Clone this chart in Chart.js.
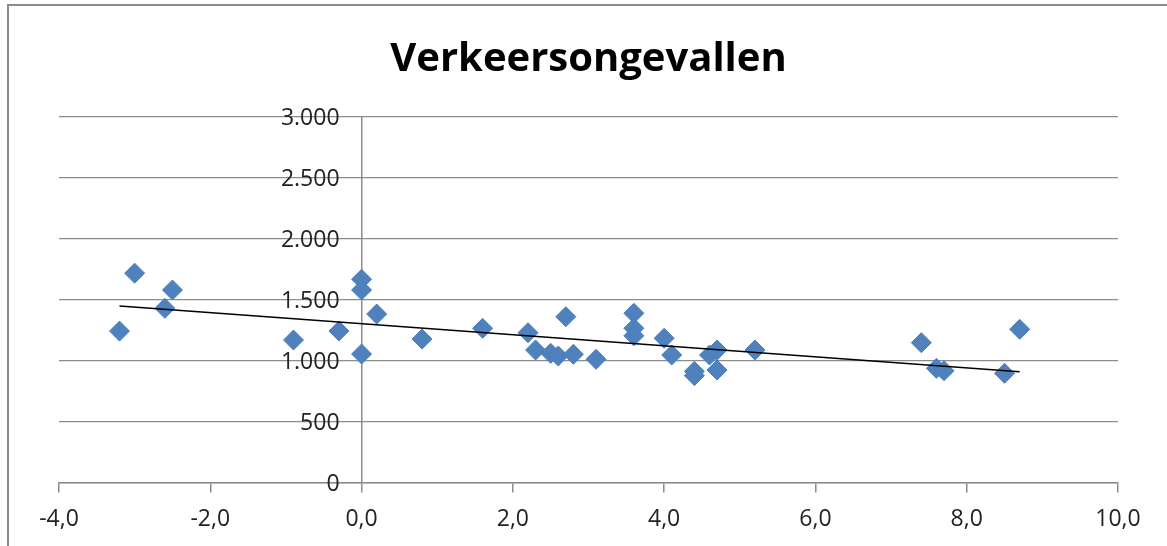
<!DOCTYPE html>
<html>
<head>
<meta charset="utf-8">
<script src="https://cdn.jsdelivr.net/npm/chart.js@4.4.1/dist/chart.umd.min.js"></script>
<style>
  html, body { margin: 0; padding: 0; background: #fff; overflow: hidden; }
  #wrap { position: relative; width: 1167px; height: 546px; }
  #frameTop { position: absolute; left: 7px; top: 4px; width: 1170px; height: 2px; background: #8c8c8c; }
  #frameLeft { position: absolute; left: 7px; top: 4px; width: 2px; height: 560px; background: #8c8c8c; }
  canvas { position: absolute; left: 0; top: 0; }
</style>
</head>
<body>
<div id="wrap">
  <div id="frameTop"></div>
  <div id="frameLeft"></div>
  <canvas id="c" width="1167" height="546"></canvas>
</div>
<script>
const chartTitle = 'Verkeersongevallen';

// scatter points (x, y)
const xValues = [-3.2, -3.0, -2.6, -2.5, -0.9, -0.3, 0.0, 0.0, 0.0, 0.2, 0.8, 1.6, 2.2, 2.3, 2.5, 2.6, 2.7, 2.8, 3.1, 3.6, 3.6, 3.6, 4.0, 4.1, 4.4, 4.4, 4.6, 4.7, 4.7, 5.2, 7.4, 7.6, 7.7, 8.5, 8.7];
const yValues = [1245, 1720, 1432, 1582, 1172, 1246, 1670, 1582, 1057, 1385, 1180, 1268, 1232, 1090, 1063, 1041, 1363, 1055, 1014, 1391, 1268, 1207, 1186, 1049, 915, 880, 1049, 1090, 926, 1090, 1150, 940, 920, 899, 1260];

// trendline end points
const trendX = [-3.2, 8.7];
const trendY = [1451, 912];

// axis ticks
const xTickValues = [-4, -2, 0, 2, 4, 6, 8, 10];
const xTickLabels = ['-4,0', '-2,0', '0,0', '2,0', '4,0', '6,0', '8,0', '10,0'];
const yTickValues = [0, 500, 1000, 1500, 2000, 2500, 3000];
const yTickLabels = ['0', '500', '1.000', '1.500', '2.000', '2.500', '3.000'];

const points = xValues.map((x, i) => ({ x: x, y: yValues[i] }));
const trend = trendX.map((x, i) => ({ x: x, y: trendY[i] }));

const gridColor = '#8c8c8c';
const textColor = '#222';
const tickFont = { family: 'Open Sans', size: 23 };

// y tick labels sit left of the y axis line (which crosses at x = 0)
const yLabelPlugin = {
  id: 'yLabels',
  afterDraw(chart) {
    const xs = chart.scales.x, ys = chart.scales.y;
    const ctx = chart.ctx;
    const axisX = xs.getPixelForValue(0);
    ctx.save();
    ctx.font = tickFont.size + 'px "' + tickFont.family + '"';
    ctx.fillStyle = textColor;
    ctx.textAlign = 'right';
    ctx.textBaseline = 'middle';
    yTickValues.forEach((v, i) => {
      ctx.fillText(yTickLabels[i], axisX - 22, ys.getPixelForValue(v) + 1);
    });
    ctx.restore();
  }
};

new Chart(document.getElementById('c'), {
  type: 'scatter',
  data: {
    datasets: [
      {
        label: 'Verkeersongevallen',
        data: points,
        pointStyle: 'rectRot',
        pointRadius: 10,
        pointHoverRadius: 10,
        backgroundColor: '#4f81bd',
        borderColor: '#4a7ebb',
        borderWidth: 1,
        order: 2
      },
      {
        type: 'line',
        label: 'Trend',
        data: trend,
        borderColor: '#000',
        borderWidth: 1.3,
        pointRadius: 0,
        fill: false,
        order: 1
      }
    ]
  },
  plugins: [yLabelPlugin],
  options: {
    responsive: false,
    animation: false,
    events: [],
    layout: { padding: { left: 59, right: 49, top: 0, bottom: 63 } },
    plugins: {
      legend: { display: false },
      tooltip: { enabled: false },
      title: {
        display: true,
        text: chartTitle,
        color: '#000',
        font: { family: 'Open Sans', size: 40, weight: 'bold', lineHeight: 1.2 },
        padding: { top: 36, bottom: 33 }
      }
    },
    scales: {
      x: {
        type: 'linear',
        position: { y: 0 },
        min: -4,
        max: 10,
        afterBuildTicks: (axis) => { axis.ticks = xTickValues.map(v => ({ value: v })); },
        ticks: {
          color: textColor,
          font: tickFont,
          padding: 14,
          maxRotation: 0,
          callback: (v) => { const i = xTickValues.indexOf(v); return i >= 0 ? xTickLabels[i] : ''; }
        },
        grid: { drawOnChartArea: false, drawTicks: true, tickLength: 9, color: gridColor, lineWidth: 1.5 },
        border: { display: true, color: gridColor, width: 1.5 }
      },
      y: {
        type: 'linear',
        position: { x: 0 },
        min: 0,
        max: 3000,
        afterBuildTicks: (axis) => { axis.ticks = yTickValues.map(v => ({ value: v })); },
        ticks: { display: false },
        grid: { drawOnChartArea: true, drawTicks: false, color: gridColor, lineWidth: 1.2 },
        border: { display: true, color: gridColor, width: 1.5 }
      }
    }
  }
});
</script>
</body>
</html>
